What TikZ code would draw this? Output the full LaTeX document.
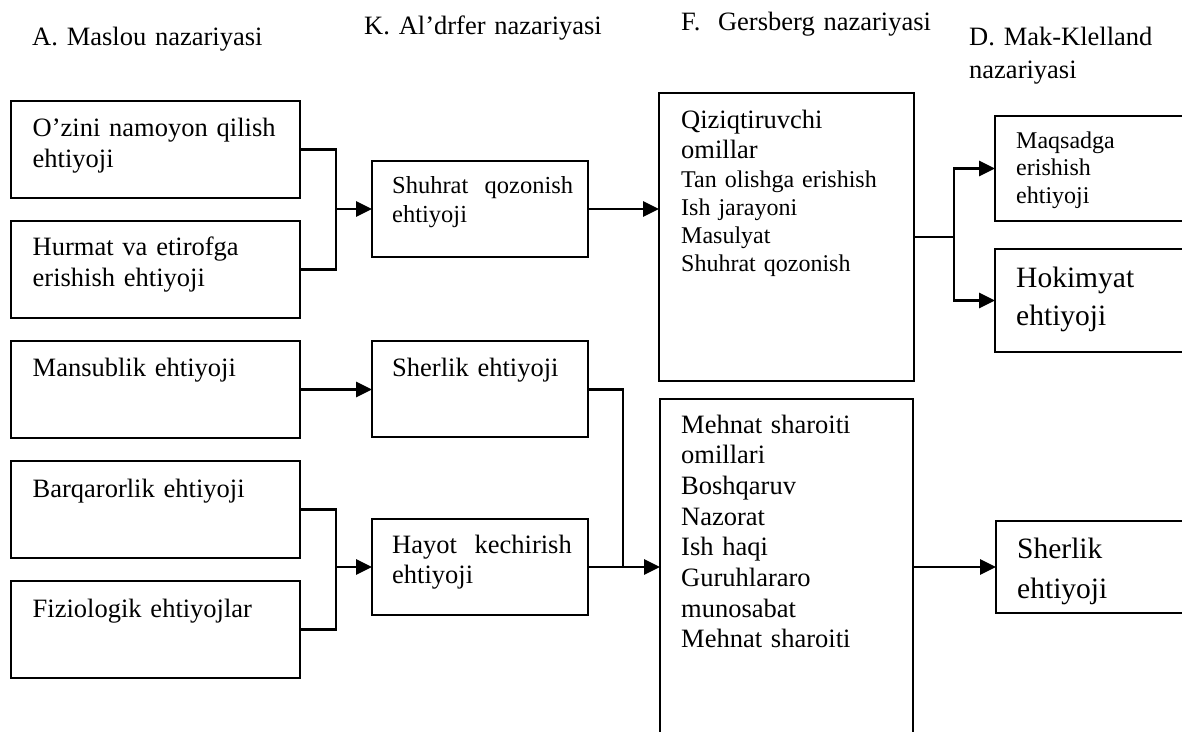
\documentclass[tikz,border=0pt]{standalone}
\usepackage{fontspec}
\setmainfont{Liberation Serif}
\usetikzlibrary{arrows.meta}

% text sizes used in the scheme
\newcommand\txtbig{\fontsize{26.5}{31}\selectfont}
\newcommand\txtmid{\fontsize{24.5}{29}\selectfont}
\newcommand\txtsmall{\fontsize{24}{28}\selectfont}

\tikzset{
  box/.style={draw, line width=1.7pt, rectangle, inner sep=0pt, outer sep=0pt, anchor=north west},
  lbl/.style={inner sep=0pt, anchor=base west, align=left, text width=280pt},
  link/.style={line width=2.7pt},
  arrowlink/.style={link, -{Triangle[length=16pt,width=15pt]}},
}

\begin{document}
\begin{tikzpicture}[x=1pt, y=-1pt]
\clip (0,0) rectangle (1182,731);
\fill[white] (0,0) rectangle (1182,731);

% column headings
\node[lbl, font=\txtbig] (hA) at (32,45) {A. Maslou nazariyasi};
\node[lbl, font=\txtbig] (hK) at (364,34) {K. Al’drfer nazariyasi};
\node[lbl, font=\txtbig] (hF) at (681,30) {F.\ \ Gersberg nazariyasi};
\node[lbl, font=\fontsize{26.5}{33}\selectfont] (hD) at (969,45) {D. Mak-Klelland\\nazariyasi};

% Maslou
\node[box, minimum width=289pt, minimum height=97pt] (m1) at (11,101) {};
\node[box, minimum width=289pt, minimum height=97pt] (m2) at (11,221) {};
\node[box, minimum width=289pt, minimum height=97pt] (m3) at (11,341) {};
\node[box, minimum width=289pt, minimum height=97pt] (m4) at (11,461) {};
\node[box, minimum width=289pt, minimum height=97pt] (m5) at (11,581) {};
\node[lbl, font=\txtbig] (m1t) at (32.5,136) {O’zini namoyon qilish\\ehtiyoji};
\node[lbl, font=\txtbig] (m2t) at (32.5,255) {Hurmat va etirofga\\erishish ehtiyoji};
\node[lbl, font=\txtbig] (m3t) at (32.5,376) {Mansublik ehtiyoji};
\node[lbl, font=\txtbig] (m4t) at (32.5,497) {Barqarorlik ehtiyoji};
\node[lbl, font=\txtbig] (m5t) at (32.5,617) {Fiziologik ehtiyojlar};

% Al'drfer
\node[box, minimum width=216pt, minimum height=96pt] (a1) at (372,161) {};
\node[box, minimum width=216pt, minimum height=96pt] (a2) at (372,341) {};
\node[box, minimum width=216pt, minimum height=96pt] (a3) at (372,519) {};
\node[lbl, font=\txtmid] (a1t) at (392,193) {Shuhrat\ \ qozonish\\ehtiyoji};
\node[lbl, font=\txtbig] (a2t) at (392,376) {Sherlik ehtiyoji};
\node[lbl, font=\fontsize{26.5}{30}\selectfont] (a3t) at (392,553) {Hayot\ \ kechirish\\ehtiyoji};

% Gersberg
\node[box, minimum width=255pt, minimum height=288pt] (g1) at (659,93) {};
\node[box, minimum width=253pt, minimum height=360pt] (g2) at (660,399) {};
\node[lbl, font=\fontsize{26.5}{30}\selectfont] (g1t) at (681,128) {Qiziqtiruvchi\\omillar};
\node[lbl, font=\txtsmall] (g1s) at (681,187) {Tan olishga erishish\\Ish jarayoni\\Masulyat\\Shuhrat qozonish};
\node[lbl, font=\fontsize{26.5}{30.7}\selectfont] (g2t) at (681,433)
  {Mehnat sharoiti\\omillari\\Boshqaruv\\Nazorat\\Ish haqi\\Guruhlararo\\munosabat\\Mehnat sharoiti};

% Mak-Klelland
\node[box, minimum width=205pt, minimum height=105pt] (d1) at (995,116) {};
\node[box, minimum width=205pt, minimum height=103pt] (d2) at (995,249) {};
\node[box, minimum width=205pt, minimum height=92pt] (d3) at (996,521) {};
\node[lbl, font=\fontsize{24}{27.5}\selectfont] (d1t) at (1016,148) {Maqsadga\\erishish\\ehtiyoji};
\node[lbl, font=\fontsize{29.5}{38}\selectfont] (d2t) at (1016,287) {Hokimyat\\ehtiyoji};
\node[lbl, font=\fontsize{29.5}{40}\selectfont] (d3t) at (1017,558) {Sherlik\\ehtiyoji};

% junction points
\coordinate (j1) at (336,209);
\coordinate (j2) at (623,567);
\coordinate (j3) at (954,237);
\coordinate (j4) at (336,567);

% connectors
\draw[link] (m1.east) -| (j1) |- (m2.east);
\draw[arrowlink] (j1) -- (j1 -| a1.west);
\draw[arrowlink] (m3.east) -- (m3.east -| a2.west);
\draw[link] (m4.east) -| (j4) |- (m5.east);
\draw[arrowlink] (j4) -- (j4 -| a3.west);
\draw[arrowlink] (a1.east |- j1) -- (g1.west |- j1);
\draw[link] (a2.east |- m3.east) -| (j2);
\draw[link] (a3.east |- j2) -- (j2);
\draw[arrowlink] (j2) -- (g2.west |- j2);
\draw[arrowlink] (g2.east |- j2) -- (d3.west |- j2);
\draw[link] (g1.east |- j3) -- (j3);
\draw[arrowlink] (j3) |- (d1.west);
\draw[arrowlink] (j3) |- (d2.west);
\end{tikzpicture}
\end{document}
